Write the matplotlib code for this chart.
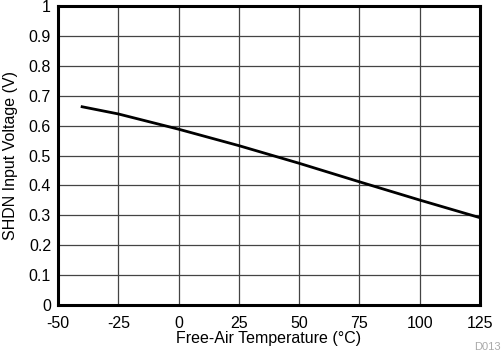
import matplotlib
matplotlib.use('Agg')
import matplotlib.pyplot as plt

plt.rcParams['font.family'] = ['Liberation Sans', 'DejaVu Sans']
plt.rcParams['axes.unicode_minus'] = False

# SHDN threshold vs temperature
temp = [-40, -25, 0, 25, 50, 75, 100, 125]
vshdn = [0.663, 0.639, 0.588, 0.533, 0.474, 0.412, 0.351, 0.292]

xticks = [-50, -25, 0, 25, 50, 75, 100, 125]
yticks = [0, 0.1, 0.2, 0.3, 0.4, 0.5, 0.6, 0.7, 0.8, 0.9, 1]
ylabels = ['0', '0.1', '0.2', '0.3', '0.4', '0.5', '0.6', '0.7', '0.8', '0.9', '1']

fig = plt.figure(figsize=(5.03, 3.54), dpi=100)
ax = fig.add_axes([58/503, 1 - 305/354, (480-58)/503, (305-6)/354])
ax.plot(temp, vshdn, color='black', lw=2)
ax.set_xlim(-50, 125)
ax.set_ylim(0, 1)
ax.set_xticks(xticks)
ax.set_yticks(yticks)
ax.set_yticklabels(ylabels)
ax.grid(True, color='#444444', lw=0.9)
ax.tick_params(length=0, labelsize=11.5)
ax.tick_params(axis='x', pad=8)
ax.tick_params(axis='y', pad=5)
for s in ax.spines.values():
    s.set_linewidth(2.2)
ax.set_xlabel('Free-Air Temperature (°C)', fontsize=11.5, labelpad=0)
ax.set_ylabel('SHDN Input Voltage (V)', fontsize=11.5, labelpad=8)
fig.text(0.995, 0.005, 'D013', color='#aaaaaa', fontsize=8, ha='right', va='bottom')
fig.savefig('out.png', dpi=100)
